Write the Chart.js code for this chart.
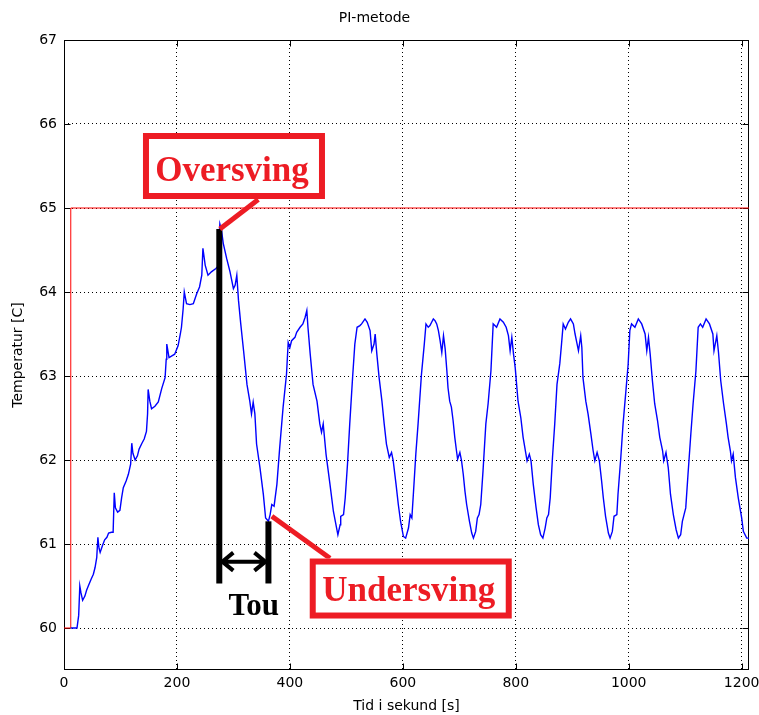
<!DOCTYPE html>
<html>
<head>
<meta charset="utf-8">
<title>PI-metode</title>
<script src="https://cdn.jsdelivr.net/npm/chart.js@4.4.0/dist/chart.umd.min.js"></script>
<style>
  html, body { margin: 0; padding: 0; background: #fff; }
  #wrap { width: 759px; height: 715px; }
</style>
</head>
<body>
<div id="wrap"><canvas id="piChart" width="759" height="715"></canvas></div>
<script>
// Setpoint (red line)
const setTimes = [0, 12, 12, 1213];
const setTemps = [60, 60, 65, 65];

const measTimes = [
  12, 23, 26, 28, 30, 33, 37, 40, 43, 48, 52, 55, 58, 60, 62, 64, 68, 72, 76, 79,
  84, 87, 89, 91, 95, 99, 102, 105, 110, 114, 118, 120, 122, 126, 130, 133, 138, 142, 146, 148,
  149, 152, 155, 161, 167, 173, 179, 181, 182, 186, 191, 196, 202, 206, 208, 211, 213, 217, 223, 229,
  235, 240, 244, 246, 250, 255, 261, 269, 272, 274, 276,
  279, 282, 288, 294, 300, 303, 306, 309, 313, 318, 324, 329, 332, 335, 338, 341, 347, 353, 357, 362,
  365, 368, 372, 377, 382, 388, 394, 397, 400, 403, 409, 412, 418, 423, 427, 430, 432, 436, 441, 448,
  453, 456, 459, 464, 471, 477, 485, 489, 490, 495, 498, 502, 506, 511, 515, 519, 524, 527, 533, 537,
  542, 545, 549, 551, 554, 558, 563, 567, 571, 576, 580, 583, 588, 592, 596, 601, 605, 610, 613, 616,
  619, 623, 627, 633, 638, 641, 645, 648, 651, 654, 657, 660, 663, 666, 669, 672, 675, 678, 680, 683,
  686, 689, 692, 695, 697, 701, 704, 707, 710, 713, 718, 722, 725, 729, 732, 735, 738, 742, 747, 751,
  756, 760, 763, 766, 772, 778, 783, 787, 790, 793, 796, 799, 802, 804, 809, 813, 818, 820, 824, 827,
  831, 836, 840, 844, 848, 852, 855, 858, 861, 865, 869, 873, 878, 881, 884, 888, 893, 897, 902, 905,
  908, 911, 915, 917, 919, 924, 928, 933, 937, 940, 944, 948, 952, 955, 959, 964, 967, 971, 974, 979,
  981, 986, 990, 995, 999, 1002, 1005, 1011, 1017, 1023, 1029, 1032, 1035, 1038, 1042, 1046, 1051, 1055, 1060, 1062,
  1066, 1070, 1074, 1079, 1084, 1088, 1092, 1095, 1098, 1101, 1105, 1110, 1114, 1119, 1123, 1127, 1131, 1137, 1143, 1149,
  1151, 1156, 1159, 1163, 1168, 1173, 1176, 1180, 1182, 1185, 1189, 1194, 1200, 1203, 1209, 1213
];
const measTemps = [
  60, 60, 60.15, 60.5, 60.42, 60.33, 60.38, 60.45, 60.5, 60.58, 60.64, 60.72, 60.84, 61.08, 60.95, 60.9, 60.98, 61.05, 61.08, 61.13,
  61.14, 61.14, 61.61, 61.43, 61.38, 61.4, 61.55, 61.67, 61.75, 61.83, 61.95, 62.2, 62.08, 62.0, 62.05, 62.13, 62.2, 62.25, 62.34, 62.55,
  62.84, 62.7, 62.61, 62.64, 62.69, 62.85, 62.98, 63.2, 63.38, 63.22, 63.24, 63.26, 63.36, 63.5, 63.58, 63.8, 64.0, 63.86, 63.85, 63.86,
  63.98, 64.06, 64.2, 64.52, 64.32, 64.2, 64.24, 64.28, 64.3, 64.6, 64.81,
  64.73, 64.58, 64.4, 64.24, 64.04, 64.08, 64.2, 63.9, 63.62, 63.3, 62.9, 62.7, 62.55, 62.69, 62.55, 62.19, 61.91, 61.59, 61.31, 61.27,
  61.35, 61.47, 61.45, 61.71, 62.15, 62.63, 63.02, 63.4, 63.34, 63.42, 63.46, 63.52, 63.58, 63.62, 63.7, 63.78, 63.58, 63.26, 62.9, 62.7,
  62.43, 62.33, 62.43, 62.07, 61.71, 61.39, 61.11, 61.23, 61.33, 61.35, 61.55, 61.95, 62.43, 62.98, 63.38, 63.58, 63.6, 63.62, 63.68, 63.64,
  63.54, 63.3, 63.38, 63.5, 63.26, 62.98, 62.7, 62.43, 62.19, 62.03, 62.09, 61.99, 61.71, 61.47, 61.27, 61.09, 61.07, 61.19, 61.35, 61.31,
  61.63, 62.07, 62.43, 63.02, 63.38, 63.62, 63.58, 63.6, 63.64, 63.68, 63.66, 63.62, 63.54, 63.42, 63.28, 63.48, 63.32, 63.06, 62.86, 62.7,
  62.63, 62.47, 62.27, 62.11, 62.01, 62.09, 61.99, 61.83, 61.63, 61.47, 61.27, 61.13, 61.07, 61.15, 61.31, 61.35, 61.47, 61.87, 62.43, 62.67,
  63.06, 63.62, 63.6, 63.58, 63.68, 63.64, 63.58, 63.48, 63.3, 63.46, 63.26, 63.1, 62.86, 62.7, 62.5, 62.27, 62.07, 61.99, 62.07, 61.99,
  61.71, 61.43, 61.23, 61.11, 61.07, 61.19, 61.31, 61.35, 61.55, 62.03, 62.43, 62.9, 63.15, 63.38, 63.62, 63.56, 63.64, 63.68, 63.62, 63.5,
  63.4, 63.3, 63.48, 63.34, 62.98, 62.7, 62.55, 62.31, 62.11, 61.99, 62.09, 61.99, 61.75, 61.55, 61.33, 61.13, 61.07, 61.15, 61.33, 61.35,
  61.59, 62.03, 62.43, 62.82, 63.14, 63.54, 63.62, 63.58, 63.68, 63.62, 63.5, 63.3, 63.46, 63.26, 62.94, 62.67, 62.47, 62.27, 62.11, 61.99,
  62.09, 61.91, 61.59, 61.35, 61.17, 61.07, 61.11, 61.27, 61.35, 61.43, 61.83, 62.31, 62.67, 63.06, 63.58, 63.62, 63.58, 63.68, 63.62, 63.5,
  63.3, 63.48, 63.28, 62.94, 62.67, 62.43, 62.27, 62.11, 61.99, 62.07, 61.79, 61.55, 61.31, 61.15, 61.07, 61.07
];

const xTicks = [0, 200, 400, 600, 800, 1000, 1200];
const yTicks = [60, 61, 62, 63, 64, 65, 66, 67];

// annotation anchors, in data units
const overLabel = { text: 'Oversving', x: 301, y: 65.5 };
const underLabel = { text: 'Undersving', x: 614, y: 60.47 };
const overLeader = [[344, 65.1], [276, 64.75]];
const underLeader = [[368, 61.33], [471, 60.83]];
const peakBar = { x: 275, top: 64.75, bottom: 60.53 };
const dipBar = { x: 362, top: 61.27, bottom: 60.53 };
const arrowLevel = 60.79;
const touLabel = { text: 'Tou', x: 336, y: 60.15 };

const RED = '#ed1c24';
const axisFont = { family: 'DejaVu Sans', size: 14 };

function toPoints(xs, ys) {
  return xs.map((t, i) => ({ x: t, y: ys[i] }));
}

// axes box plus inward tick marks (MATLAB style)
const axesBox = {
  id: 'axesBox',
  beforeDatasetsDraw(chart) {
    const { ctx, chartArea: a, scales: { x, y } } = chart;
    const L = Math.round(a.left) + 0.5, R = Math.round(a.right) - 0.5;
    const T = Math.round(a.top) + 0.5, B = Math.round(a.bottom) - 0.5;
    ctx.save();
    ctx.strokeStyle = '#000';
    ctx.lineWidth = 1;
    ctx.strokeRect(L, T, R - L, B - T);
    ctx.beginPath();
    xTicks.forEach(v => {
      const p = Math.round(x.getPixelForValue(v)) + 0.5;
      ctx.moveTo(p, B); ctx.lineTo(p, B - 6);
      ctx.moveTo(p, T); ctx.lineTo(p, T + 6);
    });
    yTicks.forEach(v => {
      const p = Math.round(y.getPixelForValue(v)) + 0.5;
      ctx.moveTo(L, p); ctx.lineTo(L + 6, p);
      ctx.moveTo(R, p); ctx.lineTo(R - 6, p);
    });
    ctx.stroke();
    ctx.restore();
  }
};

// hand-drawn style annotations
const notes = {
  id: 'notes',
  afterDatasetsDraw(chart) {
    const { ctx, scales: { x, y } } = chart;
    const px = v => x.getPixelForValue(v);
    const py = v => y.getPixelForValue(v);
    ctx.save();

    // black bars
    ctx.strokeStyle = '#000';
    ctx.lineWidth = 6;
    [peakBar, dipBar].forEach(b => {
      ctx.beginPath();
      ctx.moveTo(px(b.x), py(b.top));
      ctx.lineTo(px(b.x), py(b.bottom));
      ctx.stroke();
    });

    // double arrow between bars
    const ax1 = px(peakBar.x) + 3, ax2 = px(dipBar.x) - 3, ay = py(arrowLevel);
    ctx.lineWidth = 4;
    ctx.beginPath();
    ctx.moveTo(ax1, ay); ctx.lineTo(ax2, ay);
    ctx.moveTo(ax1 + 11, ay - 9); ctx.lineTo(ax1, ay); ctx.lineTo(ax1 + 11, ay + 9);
    ctx.moveTo(ax2 - 11, ay - 9); ctx.lineTo(ax2, ay); ctx.lineTo(ax2 - 11, ay + 9);
    ctx.stroke();

    // Tou
    ctx.fillStyle = '#000';
    ctx.font = 'bold 31px "Liberation Serif"';
    ctx.textAlign = 'center';
    ctx.textBaseline = 'alphabetic';
    ctx.fillText(touLabel.text, px(touLabel.x), py(touLabel.y));

    // red leaders
    ctx.strokeStyle = RED;
    ctx.lineWidth = 5;
    [overLeader, underLeader].forEach(seg => {
      ctx.beginPath();
      ctx.moveTo(px(seg[0][0]), py(seg[0][1]));
      ctx.lineTo(px(seg[1][0]), py(seg[1][1]));
      ctx.stroke();
    });

    // red boxes with labels
    const box = (lab, w, h, dy) => {
      const cx = px(lab.x), cy = py(lab.y);
      ctx.fillStyle = '#fff';
      ctx.fillRect(cx - w / 2, cy - h / 2, w, h);
      ctx.lineWidth = 6;
      ctx.strokeStyle = RED;
      ctx.strokeRect(cx - w / 2 + 3, cy - h / 2 + 3, w - 6, h - 6);
      ctx.fillStyle = RED;
      ctx.font = 'bold 35px "Liberation Serif"';
      ctx.fillText(lab.text, cx - 2, cy + dy);
    };
    box(overLabel, 182, 66, 15);
    box(underLabel, 202, 60, 12);

    ctx.restore();
  }
};

new Chart(document.getElementById('piChart'), {
  type: 'line',
  data: {
    datasets: [
      {
        label: 'Temperatur',
        data: toPoints(measTimes, measTemps),
        borderColor: '#0000ff',
        borderWidth: 1.4,
        pointRadius: 0,
        tension: 0,
        fill: false
      },
      {
        label: 'Settpunkt',
        data: toPoints(setTimes, setTemps),
        borderColor: '#ff0000',
        borderWidth: 1,
        pointRadius: 0,
        tension: 0,
        fill: false
      }
    ]
  },
  options: {
    responsive: false,
    animation: false,
    devicePixelRatio: 1,
    layout: { padding: { left: 0, right: 10, top: 0, bottom: 0 } },
    plugins: {
      legend: { display: false },
      tooltip: { enabled: false },
      title: {
        display: true,
        text: 'PI-metode',
        color: '#000',
        font: { family: 'DejaVu Sans', size: 14, weight: 'normal' },
        padding: { top: 9.6, bottom: 13.6 }
      }
    },
    scales: {
      x: {
        type: 'linear',
        min: 0,
        max: 1213,
        afterBuildTicks: axis => { axis.ticks = xTicks.map(v => ({ value: v })); },
        afterFit: scale => { scale.height = 45; scale.paddingLeft = 0; scale.paddingRight = 0; },
        ticks: { color: '#000', font: axisFont, padding: 5, autoSkip: false, maxRotation: 0, callback: v => String(v) },
        grid: { color: '#000', drawTicks: false, lineWidth: 1 },
        border: { display: false, dash: [1, 3] },
        title: { display: true, text: 'Tid i sekund [s]', color: '#000', font: axisFont, padding: { top: 0, bottom: 0 } }
      },
      y: {
        type: 'linear',
        min: 59.5,
        max: 67,
        afterBuildTicks: axis => { axis.ticks = yTicks.map(v => ({ value: v })); },
        afterFit: scale => { scale.width = 64; scale.paddingTop = 0; scale.paddingBottom = 0; },
        ticks: { color: '#000', font: axisFont, padding: 7, callback: v => String(v) },
        grid: { color: '#000', drawTicks: false, lineWidth: 1 },
        border: { display: false, dash: [1, 3] },
        title: { display: true, text: 'Temperatur [C]', color: '#000', font: axisFont, padding: { top: 10, bottom: 0 } }
      }
    }
  },
  plugins: [axesBox, notes]
});
</script>
</body>
</html>
